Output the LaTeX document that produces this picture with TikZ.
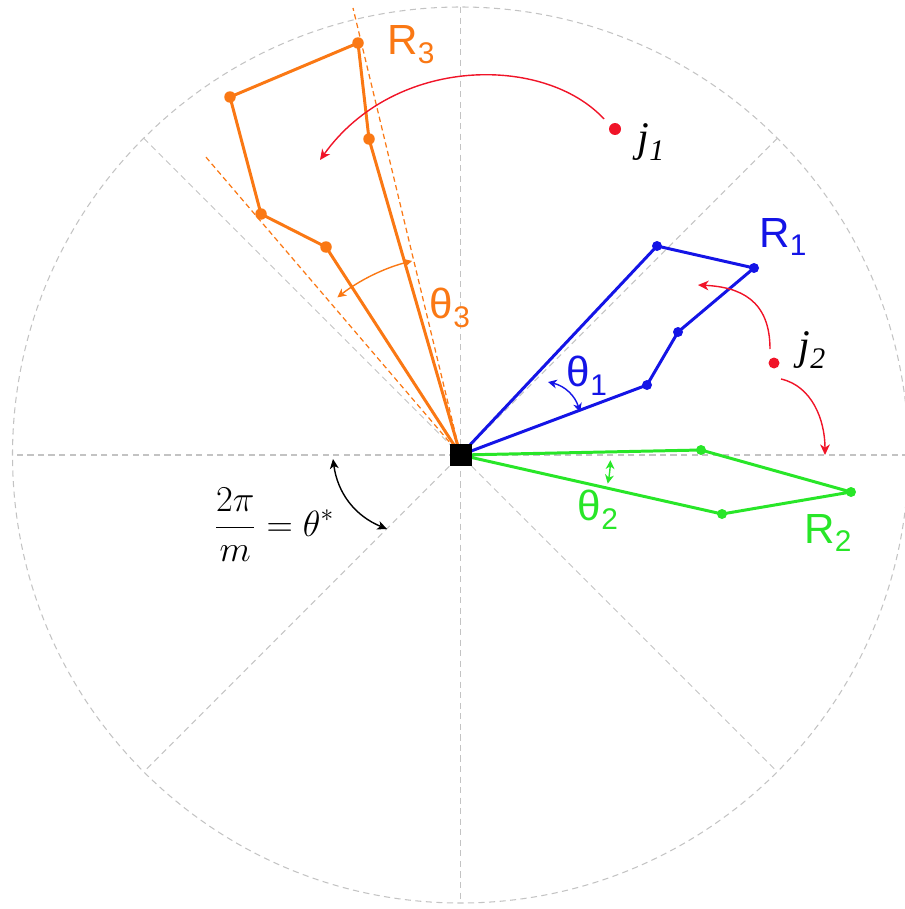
\documentclass[tikz,border=0pt]{standalone}
\usepackage{fontspec}
\usetikzlibrary{arrows.meta}
\newfontfamily\lsans{Liberation Sans}
\newfontfamily\lserif{Liberation Serif}
\definecolor{rorange}{RGB}{250,120,20}
\definecolor{rblue}{RGB}{20,20,230}
\definecolor{rgreen}{RGB}{40,230,40}
\definecolor{rred}{RGB}{240,20,40}
\definecolor{rgray}{RGB}{195,195,195}
\newcommand\lsub[1]{\raisebox{-5pt}{\fontsize{17}{17}\selectfont #1}}
\begin{document}
\begin{tikzpicture}[x=0.02cm,y=0.02cm,
  grid/.style={draw=rgray, line width=0.6pt, dash pattern=on 3.5pt off 2.5pt},
  poly/.style={line width=1.7pt, line join=round},
  guide/.style={draw=rorange, line width=0.7pt, dash pattern=on 3pt off 2pt},
  vdot/.style={circle, inner sep=0pt, minimum size=0.2cm},
  anglearc/.style={line width=0.8pt, {Stealth[length=5pt,width=5pt,inset=1.5pt]}-{Stealth[length=5pt,width=5pt,inset=1.5pt]}},
  jarr/.style={draw=rred, line width=0.8pt, -{Stealth[length=6pt,width=5.5pt,inset=1.8pt]}},
  slabel/.style={font=\lsans\fontsize{24}{28}\selectfont, inner sep=0pt},
  jlabel/.style={font=\lserif\itshape\fontsize{24}{28}\selectfont, inner sep=0pt}
]
\useasboundingbox (0,0) rectangle (904,-909);
\coordinate (C) at (460.5,-455);
% grid
\draw[grid] (C) circle (448);
\foreach \a in {0,45,90,135}
  \draw[grid] (C) ++(\a:448) -- ++(\a+180:896);

% orange robot R3
\coordinate (o1) at (326,-247);
\coordinate (o2) at (261,-214);
\coordinate (o3) at (230,-97);
\coordinate (o4) at (358,-43);
\coordinate (o5) at (369,-139);
\coordinate (og1) at (353,-8);
\coordinate (og2) at (205,-156);
\draw[guide] (C) -- (og1);
\draw[guide] (C) -- (og2);
\draw[poly, rorange] (C) -- (o1) -- (o2) -- (o3) -- (o4) -- (o5) -- cycle;
\foreach \p in {o1,o2,o3,o4,o5} \node[vdot, fill=rorange, minimum size=0.23cm] at (\p) {};
\draw[anglearc, rorange] (C) ++(104:200) arc[start angle=104, end angle=128, radius=200];

% blue robot R1
\coordinate (b1) at (657,-246);
\coordinate (b2) at (754,-268);
\coordinate (b3) at (678,-332);
\coordinate (b4) at (647,-385);
\draw[poly, rblue] (C) -- (b1) -- (b2) -- (b3) -- (b4) -- cycle;
\foreach \p in {b1,b2,b3,b4} \node[vdot, fill=rblue] at (\p) {};
\coordinate (t1a) at (548,-382);
\coordinate (t1b) at (580,-412);
\draw[anglearc, rblue] (t1a) to[bend left=30] (t1b);

% green robot R2
\coordinate (g1) at (701,-450);
\coordinate (g2) at (851,-492);
\coordinate (g3) at (722,-514);
\draw[poly, rgreen] (C) -- (g1) -- (g2) -- (g3) -- cycle;
\foreach \p in {g1,g2,g3} \node[vdot, fill=rgreen] at (\p) {};
\draw[anglearc, rgreen] (C) ++(-2:150) arc[start angle=-2, end angle=-11, radius=150];

% center
\node[fill=black, minimum size=0.44cm, inner sep=0pt] (base) at (C) {};

% tasks j1, j2
\node[vdot, fill=rred, minimum size=0.24cm] (j1) at (615,-129) {};
\node[vdot, fill=rred, minimum size=0.22cm] (j2) at (774,-363) {};
\coordinate (j1e) at (320,-160);
\coordinate (j2a) at (698,-285);
\coordinate (j2b) at (825,-455);
\draw[jarr] (604,-119) .. controls (545,-55) and (395,-55) .. (j1e);
\draw[jarr] (770,-349) .. controls (770,-300) and (740,-287) .. (j2a);
\draw[jarr] (781,-379) .. controls (812,-386) and (825,-420) .. (j2b);

% theta* arc
\coordinate (ts1) at (333,-459);
\coordinate (ts2) at (387,-529);
\draw[line width=0.8pt, {Stealth[length=5.5pt,width=5pt,inset=1.5pt]}-{Stealth[length=5.5pt,width=5pt,inset=1.5pt]}] (ts1) to[bend right=30] (ts2);

% labels
\node[slabel, text=rorange] (LR3) at (411,-45) {R\lsub{3}};
\node[slabel, text=rorange] (Lt3) at (450,-308) {θ\lsub{3}};
\node[slabel, text=rblue] (LR1) at (783,-237) {R\lsub{1}};
\node[slabel, text=rblue] (Lt1) at (587,-376) {θ\lsub{1}};
\node[slabel, text=rgreen] (LR2) at (828,-533) {R\lsub{2}};
\node[slabel, text=rgreen] (Lt2) at (598,-510) {θ\lsub{2}};
\node[jlabel] (Lj1) at (651,-142) {j\lsub{1}};
\node[jlabel] (Lj2) at (812,-350) {j\lsub{2}};
\node[inner sep=0pt] (Lform) at (274,-525) {\fontsize{21}{25}\selectfont $\displaystyle\frac{2\pi}{m}=\theta^{*}$};
\end{tikzpicture}
\end{document}
